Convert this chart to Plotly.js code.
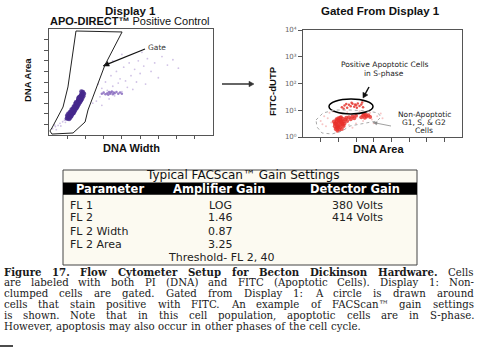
<!DOCTYPE html>
<html><head><meta charset="utf-8">
<script src="https://cdn.plot.ly/plotly-3.0.1.min.js"></script>
<style>html,body{margin:0;padding:0;background:#fff}#chart{width:482px;height:352px}</style>
</head><body><div id="chart"></div>
<script>
// ---------- data ----------
// Display 1 (DNA Width vs DNA Area), dense single-cell band
const band1X = [1.02,1.05,1.08,1.10,1.12,1.15,1.18,1.20,1.22,1.25,1.27,1.30,1.32,1.34,1.36,1.38,1.40,1.42,1.44,1.46,1.48,1.50,1.52,1.54,1.56,1.58,1.60,1.62,1.64,1.66,1.68,1.70,1.72,1.74,1.76,1.78,1.80,1.82,1.84,1.86,1.30,1.35,1.45,1.55,1.65,1.75,1.20,1.60,1.70,1.50,
  1.10,1.16,1.22,1.28,1.34,1.40,1.46,1.52,1.58,1.64,1.70,1.76,1.82,1.88,1.92,1.00,0.98,1.06,1.14,1.24,1.36,1.48,1.62,1.78];
const band1Y = [1.60,1.75,1.68,1.85,1.72,1.95,1.80,2.05,1.90,2.15,2.00,2.30,2.12,2.45,2.25,2.55,2.38,2.70,2.50,2.80,2.62,2.95,2.75,3.05,2.88,3.20,3.00,3.35,3.12,3.45,3.25,3.60,3.38,3.70,3.50,3.85,3.62,3.95,3.75,4.05,2.45,2.10,2.95,2.70,3.55,3.30,2.20,3.30,3.20,2.60,
  1.50,1.62,1.78,1.95,2.10,2.25,2.42,2.58,2.75,2.92,3.10,3.28,3.45,3.65,3.90,1.85,1.55,2.00,2.15,2.40,2.70,3.10,3.50,4.10];
// Display 1, sparse events
const sparse1X = [0.20,0.35,0.50,0.60,0.75,0.85,0.40,0.65,0.90,0.30,2.6,2.8,2.9,3.0,3.1,3.2,3.3,3.4,3.5,3.6,3.7,3.8,3.9,4.0,4.1,4.2,4.3,4.4,4.5,4.6,4.7,4.8,4.9,5.0,5.2,5.3,5.4,5.6,5.8,6.0,6.2,6.5,6.8,7.1,3.5,2.7,4.0,5.1,2.9,2.4];
const sparse1Y = [0.60,0.80,0.90,1.10,1.25,1.40,0.50,0.85,1.20,0.95,3.2,3.6,4.4,3.9,5.0,4.2,3.4,5.6,4.6,3.7,6.0,4.9,5.3,4.1,6.4,5.1,4.5,6.8,5.6,4.3,6.2,5.0,7.0,5.8,6.5,4.8,7.2,6.0,6.8,5.4,7.4,6.6,7.1,6.3,7.0,4.8,7.6,7.8,2.8,3.0];
// Display 1, G1 streak of larger cells
const streak1X = [2.9,3.0,3.1,3.2,3.3,3.35,3.4,3.5,3.55,3.6,3.7,3.8,3.9,4.0,3.25,3.45];
const streak1Y = [3.9,4.0,3.85,3.95,4.05,3.9,4.0,3.85,4.0,3.95,4.05,3.9,4.0,3.9,3.8,4.1];
// Gate polygon on Display 1
const gateX = [1.48,4.01,3.07,2.41,2.14,1.98,1.32,0.16,0.05,0.16,0.77,1.04,1.48];
const gateY = [9.81,9.72,6.60,3.58,2.36,1.23,0.19,0.09,0.38,0.66,2.64,4.53,9.81];

// Gated display (DNA Area vs FITC-dUTP, log)
const nonApoX = [1.8,1.9,2.0,2.0,2.1,2.1,2.2,2.2,1.9,2.3,2.3,2.0,2.4,1.85,2.15,2.25,2.05,1.95,2.35,2.45,2.5,2.6,2.7,2.8,2.9,3.0,3.3,3.4,3.5,3.55,3.6,3.7,3.8,3.45,
  1.75,1.85,1.9,2.0,2.05,2.1,2.15,1.95,2.25,1.8,2.0,2.1,2.2,1.9];
const nonApoY = [2.5,3.0,2.2,3.5,2.8,4.2,3.2,2.0,4.0,3.8,2.6,5.0,4.5,3.3,5.5,4.8,1.8,2.4,3.2,5.2,4.0,5.5,4.6,5.8,5.0,6.2,5.5,6.3,5.2,6.8,5.9,6.5,5.6,7.2,
  3.8,2.0,4.6,2.7,3.9,2.3,3.6,1.7,2.9,3.1,4.4,5.2,4.0,2.2];
const apoX = [2.2,2.35,2.5,2.6,2.7,2.8,2.9,3.0,3.1,3.2,3.3,3.4,2.45,2.75,3.05,3.35,2.3,2.95];
const apoY = [13,15,12.5,16,14,17.5,13.5,15.5,18,14.5,16.5,13,17,19,12.5,19.5,11.5,16.5];
const faintX = [1.0,1.2,1.3,1.5,1.6,1.4,2.6,3.0,3.4,3.9,4.2,4.4,3.8,2.5,1.7,4.0,1.1,2.8,3.2,4.5];
const faintY = [4,6,2.5,8,3.5,5,2.8,3.2,4,4.5,6,7.5,8,8.5,9,3.3,3,2.2,9.2,5];
const logTicks = [1,10,100,1000,10000];
const logTickText = ['10⁰','10¹','10²','10³','10⁴'];

// Table
const tableTitle = 'Typical FACScan™ Gain Settings';
const tableHeaders = ['Parameter','Amplifier Gain','Detector Gain'];
const tableParams = ['FL 1','FL 2','FL 2 Width','FL 2 Area'];
const tableAmp = ['LOG','1.46','0.87','3.25'];
const tableDet = ['380 Volts','414 Volts','',''];
const tableNote = 'Threshold- FL 2, 40';

// Caption
const captionBold = 'Figure 17. Flow Cytometer Setup for Becton Dickinson Hardware.';
const captionLines = [
  'Cells',
  'are labeled with both PI (DNA) and FITC (Apoptotic Cells). Display 1: Non-',
  'clumped cells are gated. Gated from Display 1: A circle is drawn around',
  'cells that stain positive with FITC. An example of FACScan™ gain settings',
  'is shown. Note that in this cell population, apoptotic cells are in S-phase.',
  'However, apoptosis may also occur in other phases of the cell cycle.'
];

// ---------- layout helpers ----------
const W = 482, H = 352;
const PX = x => x / W, PY = y => 1 - y / H;
const SANS = '"Liberation Sans", Arial, sans-serif';
const DJ = '"DejaVu Sans", sans-serif';
const SERIF = '"DejaVu Serif", serif';
const ann = [];
const shapes = [];
function T(text, x, y, size, opt) {
  opt = opt || {};
  ann.push(Object.assign({
    text: text, x: PX(x), y: PY(y), xref: 'paper', yref: 'paper',
    showarrow: false, xanchor: 'center', yanchor: 'middle',
    borderpad: 0, borderwidth: 0,
    font: {family: opt.family || SANS, size: size, color: opt.color || '#111'}
  }, opt.extra || {}));
}
// arrow drawn as a line shape plus a filled triangular head (pixel coords -> paper)
function ARROW(hx, hy, tx, ty, color, w, L, hw) {
  const dx = hx - tx, dy = hy - ty, len = Math.hypot(dx, dy);
  const ux = dx / len, uy = dy / len, nx = -uy, ny = ux;
  const bx = hx - ux * L, by = hy - uy * L;
  shapes.push({type: 'line', xref: 'paper', yref: 'paper', x0: PX(tx), y0: PY(ty), x1: PX(bx + ux), y1: PY(by + uy),
    line: {color: color, width: w}});
  const pts = [[hx, hy], [bx + nx * hw, by + ny * hw], [bx - nx * hw, by - ny * hw]];
  shapes.push({type: 'path', xref: 'paper', yref: 'paper',
    path: pts.map((p, i) => (i ? 'L' : 'M') + PX(p[0]) + ',' + PY(p[1])).join(' ') + ' Z',
    fillcolor: color, line: {color: color, width: 0.5}});
}

// Titles and axis labels
T('<b>Display 1</b>', 130, 11, 11.5);
T('<b>APO-DIRECT™</b> Positive Control', 130, 21.5, 11);
T('<b>DNA Width</b>', 131, 148, 11);
T('<b>DNA Area</b>', 27, 80, 9.5, {extra: {textangle: -90}});
T('<b>Gated From Display 1</b>', 380, 11, 11.5);
T('<b>DNA Area</b>', 378, 149, 11);
T('<b>FITC-dUTP</b>', 272, 91, 9.5, {extra: {textangle: -90}});
T('Gate', 157, 47, 7.5, {family: DJ, color: '#333'});
ARROW(103, 66, 145, 49, '#111', 1.2, 6, 2.5);
T('Positive Apoptotic Cells', 385, 64, 7.5, {family: DJ, color: '#222'});
T('in S-phase', 384, 73, 7.5, {family: DJ, color: '#222'});
ARROW(363, 98, 369, 87, '#111', 1.5, 5, 2.8);
T('Non-Apoptotic', 424, 115, 7.5, {family: DJ, color: '#222'});
T('G1, S, & G2', 424, 123, 7.5, {family: DJ, color: '#222'});
T('Cells', 424, 131, 7.5, {family: DJ, color: '#222'});
ARROW(373, 122.5, 391, 126, '#888', 0.8, 4, 1.6);
ARROW(254, 84, 222, 84, '#333', 1.5, 5, 2.8);

// Table text
T(tableTitle, 242, 175, 12, {family: DJ, color: '#111'});
const hdrX = [110, 219, 355];
tableHeaders.forEach((h, i) => T('<b>' + h + '</b>', hdrX[i], 188.8, 11.5, {family: DJ, color: '#fff'}));
const rowY = [205, 218, 231, 244.2];
tableParams.forEach((p, i) => {
  T(p, 70, rowY[i], 11, {family: DJ, color: '#222', extra: {xanchor: 'left'}});
  T(tableAmp[i], 220, rowY[i], 11, {family: DJ, color: '#222'});
  if (tableDet[i]) T(tableDet[i], 357, rowY[i], 11, {family: DJ, color: '#222'});
});
T(tableNote, 221, 257.5, 11, {family: DJ, color: '#222'});

// Caption, justified with measured word widths
const cv = document.createElement('canvas').getContext('2d');
function measure(word, bold, size) {
  cv.font = (bold ? 'bold ' : '') + size + 'px "DejaVu Serif"';
  return cv.measureText(word).width;
}
const capL = 3.5, capR = 474, capY0 = 272, capDY = 10.8, capSize = 10.2;
const capWordLines = captionLines.map((l, i) => {
  const ws = l.split(' ').map(w => ({w: w, b: false}));
  if (i === 0) return captionBold.split(' ').map(w => ({w: w, b: true})).concat(ws);
  return ws;
});
capWordLines.forEach((words, li) => {
  const last = li === capWordLines.length - 1;
  let size = capSize, widths, total;
  for (;;) {
    widths = words.map(o => measure(o.w, o.b, size));
    total = widths.reduce((a, b) => a + b, 0);
    if (total + 2 * (words.length - 1) <= capR - capL || size < 8) break;
    size -= 0.25;
  }
  const space = measure(' ', false, size);
  const gap = last ? space * 1.15 : (capR - capL - total) / (words.length - 1);
  let x = capL;
  words.forEach((o, k) => {
    T(o.b ? '<b>' + o.w + '</b>' : o.w, x, capY0 + li * capDY, size,
      {family: SERIF, color: '#1a1a1a', extra: {xanchor: 'left'}});
    x += widths[k] + gap;
  });
});

// ---------- shapes ----------
shapes.push({type: 'rect', xref: 'paper', yref: 'paper', x0: PX(63), x1: PX(417), y0: PY(265), y1: PY(170),
  line: {color: '#444', width: 1}, fillcolor: '#fcfaf1', layer: 'below'});
shapes.push({type: 'rect', xref: 'paper', yref: 'paper', x0: PX(63), x1: PX(417), y0: PY(194.8), y1: PY(182.5),
  line: {width: 0}, fillcolor: '#000', layer: 'below'});
let gp = gateX.map((x, i) => (i ? 'L' : 'M') + x + ',' + gateY[i]).join(' ') + ' Z';
shapes.push({type: 'path', xref: 'x', yref: 'y', path: gp, line: {color: '#222', width: 1}});
shapes.push({type: 'circle', xref: 'paper', yref: 'paper', x0: PX(329), x1: PX(373), y0: PY(114), y1: PY(99),
  line: {color: '#000', width: 1.5}});
const contour = [[316,120],[323,113],[335,110],[350,110],[368,111],[378,113],[381,117],[377,121],[366,123],[350,126],[342,131],[332,134],[322,133],[317,127]];
shapes.push({type: 'path', xref: 'paper', yref: 'paper',
  path: contour.map((p, i) => (i ? 'L' : 'M') + PX(p[0]) + ',' + PY(p[1])).join(' ') + ' Z',
  line: {color: '#aaa', width: 1, dash: 'dot'}});
shapes.push({type: 'line', xref: 'paper', yref: 'paper', x0: 0, x1: PX(13), y0: PY(346), y1: PY(346), line: {color: '#111', width: 1.5}});

// ---------- traces ----------
const mk = (x, y, color, size, op, xa, ya) => ({type: 'scatter', mode: 'markers', x: x, y: y,
  xaxis: xa, yaxis: ya, hoverinfo: 'skip', marker: {color: color, size: size, opacity: op, line: {width: 0}}});
const data = [
  mk(sparse1X, sparse1Y, '#c4b3e0', 1.8, 0.8, 'x', 'y'),
  mk(streak1X, streak1Y, '#8a6cc0', 2.5, 0.85, 'x', 'y'),
  mk(band1X, band1Y, '#45288c', 4.5, 0.85, 'x', 'y'),
  mk(faintX, faintY, '#f5b8b8', 2, 0.8, 'x2', 'y2'),
  mk(nonApoX, nonApoY, '#e8302a', 4, 0.8, 'x2', 'y2'),
  mk(apoX, apoY, '#e5403a', 2.5, 0.9, 'x2', 'y2')
];

const axBase = {showgrid: false, zeroline: false, showline: true, mirror: true, linecolor: '#555', linewidth: 1,
  ticks: 'outside', tickcolor: '#555', tickwidth: 1, fixedrange: true};
const layout = {
  width: W, height: H, margin: {l: 0, r: 0, t: 0, b: 0}, showlegend: false,
  paper_bgcolor: '#fff', plot_bgcolor: '#fff',
  xaxis: Object.assign({}, axBase, {domain: [PX(49), PX(213)], range: [0, 9], tickvals: [1,2,3,4,5,6,7,8], ticklen: 3, showticklabels: false, anchor: 'y'}),
  yaxis: Object.assign({}, axBase, {domain: [PY(135), PY(29)], range: [0, 10], tickvals: [1,2,3,4,5,6,7,8,9], ticklen: 4, showticklabels: false, anchor: 'x'}),
  xaxis2: Object.assign({}, axBase, {domain: [PX(303), PX(462)], range: [0, 9], tickvals: [1,2,3,4,5,6,7,8], ticklen: 4, showticklabels: false, anchor: 'y2'}),
  yaxis2: Object.assign({}, axBase, {domain: [PY(137), PY(30)], type: 'log', range: [0, 4], tickvals: logTicks, ticktext: logTickText,
    ticklen: 4, tickfont: {family: DJ, size: 7, color: '#666'}, anchor: 'x2'}),
  annotations: ann, shapes: shapes
};
Plotly.newPlot('chart', data, layout, {staticPlot: true, displayModeBar: false});
</script></body></html>
